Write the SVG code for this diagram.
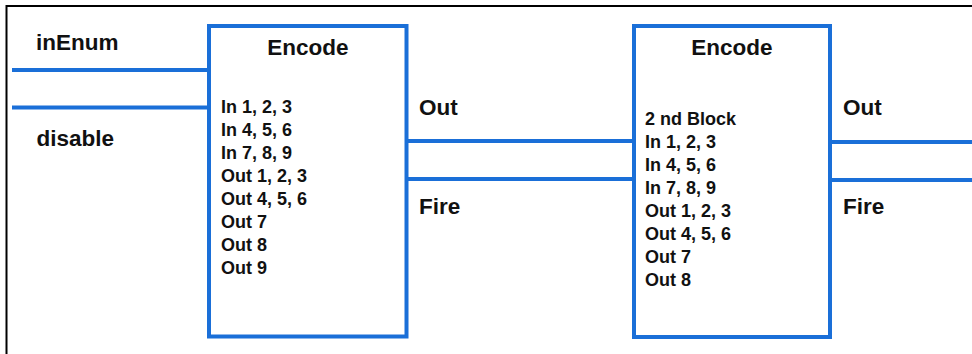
<svg xmlns="http://www.w3.org/2000/svg" width="972" height="354" viewBox="0 0 972 354">
<style>
.frame{fill:none;stroke:#000;stroke-width:2}
.box{fill:#fff;stroke:#1a6fd8;stroke-width:4}
.wire{fill:none;stroke:#1a6fd8;stroke-width:4}
.big{font-family:"Liberation Sans",Arial,sans-serif;font-weight:bold;font-size:22.5px;fill:#111}
.sm{font-family:"Liberation Sans",Arial,sans-serif;font-weight:bold;font-size:18px;fill:#111}
.ttl{text-anchor:middle}
</style>
<rect width="972" height="354" fill="#fff"/>
<path class="frame" d="M6.5,354 V6 H972"/>
<g id="connectors">
<line class="wire" x1="12" y1="70" x2="209" y2="70"/>
<line class="wire" x1="12" y1="107.5" x2="209" y2="107.5"/>
<line class="wire" x1="406.5" y1="141" x2="634" y2="141"/>
<line class="wire" x1="406.5" y1="179" x2="634" y2="179"/>
<line class="wire" x1="830" y1="142" x2="972" y2="142"/>
<line class="wire" x1="830" y1="180" x2="972" y2="180"/>
</g>
<g id="labels">
<text class="big" x="36" y="50">inEnum</text>
<text class="big" x="36.5" y="146">disable</text>
<text class="big" x="419" y="115">Out</text>
<text class="big" x="419" y="214">Fire</text>
<text class="big" x="843" y="115">Out</text>
<text class="big" x="843" y="214">Fire</text>
</g>
<g id="encode1">
<rect class="box" x="209" y="26" width="197.5" height="310.5"/>
<text class="big ttl" x="308" y="55">Encode</text>
<text class="sm" x="221" y="112.5">In 1, 2, 3</text>
<text class="sm" x="221" y="135.6">In 4, 5, 6</text>
<text class="sm" x="221" y="158.7">In 7, 8, 9</text>
<text class="sm" x="221" y="181.8">Out 1, 2, 3</text>
<text class="sm" x="221" y="204.9">Out 4, 5, 6</text>
<text class="sm" x="221" y="228">Out 7</text>
<text class="sm" x="221" y="251.1">Out 8</text>
<text class="sm" x="221" y="274.2">Out 9</text>
</g>
<g id="encode2">
<rect class="box" x="634" y="26" width="196" height="311"/>
<text class="big ttl" x="732" y="55">Encode</text>
<text class="sm" x="645" y="125">2 nd Block</text>
<text class="sm" x="645" y="148">In 1, 2, 3</text>
<text class="sm" x="645" y="171">In 4, 5, 6</text>
<text class="sm" x="645" y="194">In 7, 8, 9</text>
<text class="sm" x="645" y="217">Out 1, 2, 3</text>
<text class="sm" x="645" y="240">Out 4, 5, 6</text>
<text class="sm" x="645" y="263">Out 7</text>
<text class="sm" x="645" y="286">Out 8</text>
</g>
</svg>
